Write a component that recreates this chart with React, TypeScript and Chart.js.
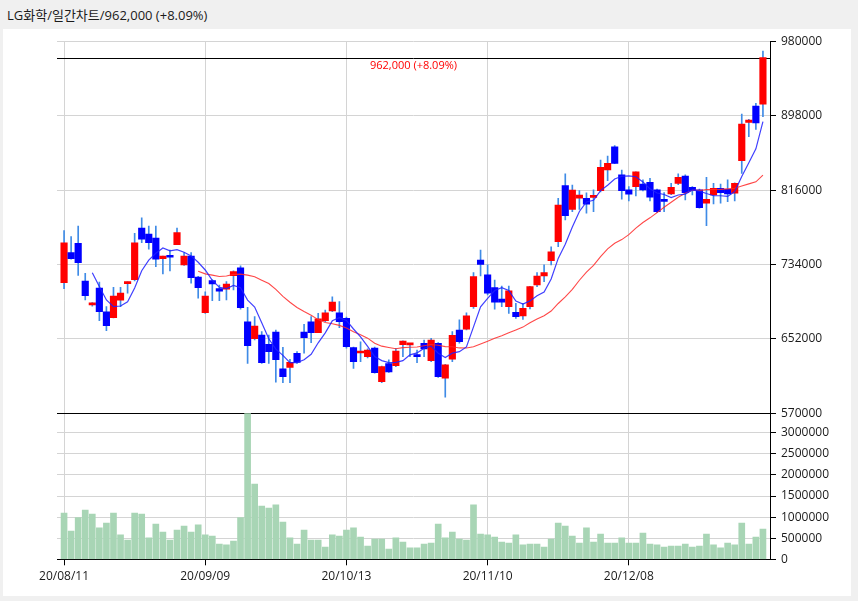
import { useEffect, useRef } from "react";
import { Chart, registerables } from "chart.js";

Chart.register(...registerables);

// daily candles, 20/08/11 .. 21/01/07 (100 trading days)
const opens = [
  714000, 747000, 757400, 715800, 689500, 708100, 681700, 675400, 694600, 713000,
  717300, 774200, 767600, 763200, 740400, 743000, 755800, 733500, 743400, 720200,
  680900, 716200, 707400, 706700, 721700, 730200, 670700, 652300, 656300, 646100,
  659600, 618900, 620700, 636200, 659600, 670700, 658900, 672100, 682800, 680600,
  674700, 642300, 636500, 632400, 642000, 604900, 624700, 622500, 645600, 645500,
  633000, 647200, 628000, 647200, 608600, 629600, 661800, 662600, 687500, 739000,
  722500, 708500, 696000, 687500, 681300, 677300, 687500, 711400, 721300, 738200,
  759100, 820900, 794800, 807000, 807000, 808000, 815300, 838200, 863800, 832700,
  816200, 819800, 822700, 824600, 816200, 804500, 811700, 823500, 831500, 819100,
  816200, 801500, 810600, 818000, 816900, 812500, 848400, 890700, 908700, 910600,
];
const highs = [
  771300, 764700, 776400, 724300, 692000, 714700, 687500, 708900, 708900, 715000,
  768400, 785300, 776400, 776400, 743400, 750000, 774200, 747000, 747000, 721000,
  704000, 717000, 711400, 715100, 727000, 732400, 686900, 676500, 660000, 656300,
  661800, 642800, 629500, 637900, 668100, 676500, 680300, 683900, 698500, 693000,
  676000, 643000, 648900, 641000, 643000, 622000, 628800, 641700, 650000, 647000,
  639800, 650700, 652600, 648000, 624000, 660000, 672900, 680600, 725000, 750000,
  733500, 716900, 710300, 710300, 691300, 691300, 710000, 725000, 733500, 753600,
  807000, 833800, 821600, 815400, 813100, 816200, 849200, 853600, 865000, 838200,
  819800, 836000, 827200, 829000, 817000, 813300, 823500, 833800, 832700, 820000,
  817000, 830100, 823500, 822700, 827200, 824000, 899900, 894000, 911700, 969300,
];
const lows = [
  707400, 740000, 722100, 694900, 688000, 672100, 661100, 675000, 687500, 702500,
  716000, 758000, 750800, 731600, 723600, 726900, 755800, 733000, 713300, 696800,
  680000, 694100, 694100, 694900, 705900, 684700, 625100, 650800, 625000, 625100,
  604200, 603800, 603800, 625000, 636200, 647800, 658900, 671000, 682000, 664400,
  641700, 619600, 626900, 631000, 614100, 603800, 615000, 621400, 632400, 632400,
  625800, 632400, 627000, 609500, 587700, 626900, 647200, 662000, 685700, 721300,
  700400, 684700, 687500, 680200, 674700, 673600, 685000, 709600, 715100, 733500,
  753600, 783100, 792200, 794800, 790500, 792200, 814000, 826400, 845000, 805900,
  804000, 809500, 815000, 804000, 791000, 792200, 811000, 822000, 805200, 810600,
  796000, 776800, 800700, 801500, 803200, 804000, 834500, 874900, 883000, 896900,
];
const closes = [
  758000, 740400, 736000, 699600, 690500, 682100, 666600, 699300, 702600, 714000,
  758000, 761800, 758000, 739800, 743400, 742000, 769100, 743400, 719500, 708500,
  699300, 712500, 704500, 712500, 726100, 686400, 644500, 666200, 625800, 637900,
  629100, 610400, 626200, 626100, 653400, 658900, 674000, 680600, 692700, 671000,
  643400, 626900, 637300, 639800, 614800, 621400, 615600, 638700, 649700, 646500,
  632400, 640900, 650800, 610400, 623300, 656000, 648900, 677300, 720600, 734200,
  702300, 692400, 692400, 705100, 676500, 685800, 709600, 721300, 725000, 748100,
  799600, 787800, 816100, 810600, 800400, 809000, 841100, 845500, 845500, 815300,
  811400, 836000, 816200, 808100, 792200, 803500, 819100, 830100, 813100, 815300,
  796600, 805900, 818000, 813100, 811700, 823500, 888900, 893300, 890000, 962000,
];
const volumes = [
  1098000, 671000, 987000, 1169000, 1074000, 743000, 861000, 1098000, 577000, 458000,
  1098000, 1074000, 506000, 837000, 648000, 458000, 695000, 790000, 648000, 814000,
  577000, 553000, 363000, 340000, 434000, 987000, 3460000, 1785000, 1264000, 1216000,
  1288000, 885000, 506000, 363000, 695000, 458000, 458000, 292000, 577000, 553000,
  695000, 743000, 529000, 316000, 482000, 482000, 245000, 506000, 411000, 269000,
  269000, 363000, 387000, 837000, 506000, 648000, 482000, 458000, 1288000, 600000,
  577000, 529000, 411000, 387000, 577000, 340000, 363000, 363000, 292000, 482000,
  861000, 790000, 553000, 387000, 743000, 411000, 600000, 387000, 387000, 506000,
  387000, 387000, 624000, 363000, 340000, 292000, 316000, 316000, 363000, 292000,
  316000, 600000, 340000, 269000, 387000, 340000, 861000, 363000, 529000, 719000,
];

const dateTickIndex = [0, 20, 40, 60, 80];
const dateTickLabels = ["20/08/11", "20/09/09", "20/10/13", "20/11/10", "20/12/08"];
const priceTicks = [570000, 652000, 734000, 816000, 898000, 980000];
const volumeTicks = [0, 500000, 1000000, 1500000, 2000000, 2500000, 3000000];
const lastPrice = 962000;
const lastPriceLabel = "962,000 (+8.09%)";
const titleText = "LG화학/일간차트/962,000 (+8.09%)";

const UP = "#ff0000";
const DOWN = "#0000ff";
const GRID = "#d4d4d4";
const FONT = '"Open Sans", "Liberation Sans", sans-serif';

function movingAverage(src: number[], n: number) {
  const out: { x: number; y: number }[] = [];
  for (let i = n - 1; i < src.length; i++) {
    let s = 0;
    for (let k = i - n + 1; k <= i; k++) s += src[k];
    out.push({ x: i, y: s / n });
  }
  return out;
}

const lastPriceLine = {
  id: "lastPriceLine",
  beforeDatasetsDraw(chart: any) {
    const { ctx, chartArea } = chart;
    const y = Math.round(chart.scales.y.getPixelForValue(lastPrice)) + 0.5;
    ctx.save();
    ctx.strokeStyle = "#000";
    ctx.lineWidth = 1;
    ctx.beginPath();
    ctx.moveTo(chartArea.left, y);
    ctx.lineTo(chartArea.right, y);
    ctx.stroke();
    ctx.fillStyle = "#ff0000";
    ctx.font = `11px ${FONT}`;
    ctx.textAlign = "center";
    ctx.textBaseline = "middle";
    ctx.fillText(lastPriceLabel, (chartArea.left + chartArea.right) / 2, y + 7);
    ctx.restore();
  },
};

export default function App() {
  const canvasRef = useRef<HTMLCanvasElement | null>(null);
  const chartRef = useRef<Chart | null>(null);

  useEffect(() => {
    if (!canvasRef.current) return;
    if (chartRef.current) {
      chartRef.current.destroy();
      chartRef.current = null;
    }

    const bodies = opens.map((o, i) => ({ x: i, y: [o, closes[i]] }));
    const wicks = lows.map((l, i) => ({ x: i, y: [l, highs[i]] }));
    const vols = volumes.map((v, i) => ({ x: i, y: v }));
    const colors = opens.map((o, i) => (closes[i] >= o ? UP : DOWN));

    const tickFont = { family: FONT, size: 12 };

    chartRef.current = new Chart(canvasRef.current, {
      type: "bar",
      data: {
        datasets: [
          {
            type: "line",
            label: "MA5",
            data: movingAverage(closes, 5),
            yAxisID: "y",
            borderColor: "rgba(30,30,255,0.85)",
            borderWidth: 1.2,
            pointRadius: 0,
            tension: 0,
            order: 0,
          },
          {
            type: "line",
            label: "MA20",
            data: movingAverage(closes, 20),
            yAxisID: "y",
            borderColor: "rgba(255,40,40,0.85)",
            borderWidth: 1.1,
            pointRadius: 0,
            tension: 0,
            order: 1,
          },
          {
            label: "body",
            data: bodies as any,
            yAxisID: "y",
            backgroundColor: colors,
            barThickness: 6.5,
            minBarLength: 2,
            grouped: false,
            order: 2,
          },
          {
            label: "wick",
            data: wicks as any,
            yAxisID: "y",
            backgroundColor: "#3f8be6",
            barThickness: 1,
            grouped: false,
            order: 3,
          },
          {
            label: "volume",
            data: vols as any,
            yAxisID: "yv",
            backgroundColor: "#a8d5b5",
            barThickness: 6,
            grouped: false,
            order: 4,
          },
        ],
      },
      options: {
        responsive: false,
        animation: false,
        events: [],
        layout: { padding: { left: 54, top: 12.3, right: 0, bottom: 0 } },
        plugins: {
          legend: { display: false },
          tooltip: { enabled: false },
        },
        scales: {
          x: {
            type: "linear",
            min: -1,
            max: 100,
            offset: false,
            bounds: "data",
            grid: { color: GRID, tickColor: "#000", tickLength: 6, offset: false },
            border: { color: "#000" },
            ticks: {
              font: tickFont,
              color: "#1a1a1a",
              padding: 4,
              maxRotation: 0,
              autoSkip: false,
              callback: (v: any) => {
                const k = dateTickIndex.indexOf(Number(v));
                return k >= 0 ? dateTickLabels[k] : "";
              },
            },
            afterBuildTicks: (s: any) => {
              s.ticks = dateTickIndex.map((v) => ({ value: v }));
            },
            afterFit: (s: any) => {
              s.height = 36.7;
            },
          },
          y: {
            type: "linear",
            position: "right",
            stack: "panels",
            stackWeight: 372,
            min: 570000,
            max: 980000,
            grid: {
              color: (c: any) => (c.tick && c.tick.value === 570000 ? "#000" : GRID),
              tickColor: "#000",
              tickLength: 6,
            },
            border: { color: "#000" },
            ticks: {
              font: tickFont,
              color: "#1a1a1a",
              padding: 5,
              autoSkip: false,
              callback: (v: any) => String(v),
            },
            afterBuildTicks: (s: any) => {
              s.ticks = priceTicks.map((v) => ({ value: v }));
            },
            afterFit: (s: any) => {
              s.width = 81;
            },
          },
          yv: {
            type: "linear",
            position: "right",
            stack: "panels",
            stackWeight: 146,
            min: 0,
            max: 3460000,
            grid: {
              color: (c: any) => (c.tick && c.tick.value === 0 ? "#000" : GRID),
              tickColor: "#000",
              tickLength: 6,
            },
            border: { color: "#000" },
            ticks: {
              font: tickFont,
              color: "#1a1a1a",
              padding: 5,
              autoSkip: false,
              callback: (v: any) => String(v),
            },
            afterBuildTicks: (s: any) => {
              s.ticks = volumeTicks.map((v) => ({ value: v }));
            },
            afterFit: (s: any) => {
              s.width = 81;
            },
          },
        },
      } as any,
      plugins: [lastPriceLine],
    });

    return () => {
      if (chartRef.current) {
        chartRef.current.destroy();
        chartRef.current = null;
      }
    };
  }, []);

  return (
    <div
      style={{
        position: "fixed",
        left: 0,
        top: 0,
        width: 858,
        height: 601,
        background: "#f0f0f0",
      }}
    >
      <div
        style={{
          position: "absolute",
          left: 7,
          top: 6,
          fontFamily: '"Open Sans", "Noto Sans CJK KR", sans-serif',
          fontSize: 13,
          lineHeight: "18px",
          color: "#1a1a1a",
          whiteSpace: "nowrap",
        }}
      >
        {titleText}
      </div>
      <div
        style={{
          position: "absolute",
          left: 3,
          top: 29,
          width: 848,
          height: 567,
          background: "#fff",
        }}
      >
        <canvas ref={canvasRef} width={848} height={567} style={{ display: "block" }} />
      </div>
    </div>
  );
}
